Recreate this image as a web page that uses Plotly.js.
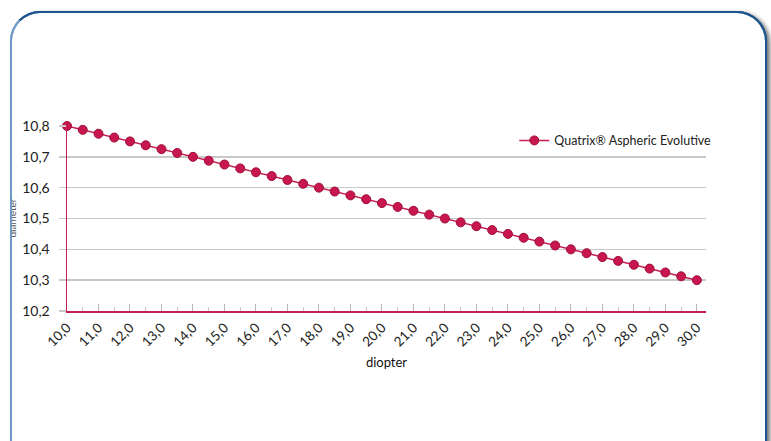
<!DOCTYPE html>
<html>
<head>
<meta charset="utf-8">
<script src="https://cdn.plot.ly/plotly-3.0.1.min.js"></script>
<style>
  html, body { margin: 0; padding: 0; background: #ffffff; width: 771px; height: 441px; overflow: hidden; }
  #frame { position: absolute; left: 10px; top: 11px; width: 753px; height: 460px;
           border: 2px solid #1d5590; border-left-color: #6e9ac4; border-radius: 30px;
           box-shadow: 3px 2px 4px rgba(0,0,0,0.55); background: #ffffff; z-index: 0; }
  #chart { position: absolute; left: 0; top: 0; width: 771px; height: 441px; z-index: 1; }
  #cover { position: absolute; left: 0; top: 0; width: 10px; height: 441px; background: #ffffff; z-index: 2; }
  #frame2 { position: absolute; left: 10px; top: 11px; width: 753px; height: 460px;
           border: 2px solid #1d5590; border-left-color: #6e9ac4; border-radius: 30px; z-index: 3; pointer-events: none; }
</style>
</head>
<body>
<div id="frame"></div>
<div id="chart"></div>
<div id="cover"></div>
<div id="frame2"></div>
<script>
// Data
const diopter = [10.0,10.5,11.0,11.5,12.0,12.5,13.0,13.5,14.0,14.5,15.0,15.5,16.0,16.5,17.0,17.5,18.0,18.5,19.0,19.5,20.0,20.5,21.0,21.5,22.0,22.5,23.0,23.5,24.0,24.5,25.0,25.5,26.0,26.5,27.0,27.5,28.0,28.5,29.0,29.5,30.0];
const diameter = [10.8000,10.7875,10.7750,10.7625,10.7500,10.7375,10.7250,10.7125,10.7000,10.6875,10.6750,10.6625,10.6500,10.6375,10.6250,10.6125,10.6000,10.5875,10.5750,10.5625,10.5500,10.5375,10.5250,10.5125,10.5000,10.4875,10.4750,10.4625,10.4500,10.4375,10.4250,10.4125,10.4000,10.3875,10.3750,10.3625,10.3500,10.3375,10.3250,10.3125,10.3000];
const seriesName = "Quatrix® Aspheric Evolutive";
const xTitle = "diopter";
const yTitle = "diameter";

const FONT = "Lato, 'Noto Sans', sans-serif";
const red = "#c41e52";

const trace = {
  x: diopter, y: diameter, type: "scatter", mode: "lines+markers", name: seriesName,
  line: { color: red, width: 1.5 },
  marker: { symbol: "circle", size: 9, color: "#c8164e", line: { color: "#9e0f3a", width: 1 } },
  cliponaxis: false
};

const layout = {
  width: 771, height: 441,
  margin: { l: 67, r: 65, t: 126, b: 130 },
  paper_bgcolor: "rgba(0,0,0,0)", plot_bgcolor: "rgba(0,0,0,0)",
  separators: ",.",
  font: { family: FONT, color: "#222222", size: 13 },
  showlegend: true,
  legend: { x: 0.70, y: 0.92, xanchor: "left", yanchor: "middle", bgcolor: "rgba(0,0,0,0)",
            font: { family: FONT, size: 12.5, color: "#222" }, itemwidth: 30 },
  xaxis: {
    range: [10, 30.29], dtick: 1, tick0: 10, tickformat: ".1f", tickangle: -45,
    showgrid: false, zeroline: false, showline: true, linecolor: red, linewidth: 1.5,
    ticks: "inside", ticklen: 7, tickcolor: "#b8b8b8", tickwidth: 1,
    minor: { dtick: 0.5, ticks: "inside", ticklen: 4, tickcolor: "#c8c8c8", showgrid: false },
    ticklabelstandoff: 2,
    tickfont: { family: FONT, size: 13.5, color: "#222" },
    title: { text: xTitle, font: { family: FONT, size: 13, color: "#111" }, standoff: 9 }
  },
  yaxis: {
    range: [10.2, 10.8], dtick: 0.1, tick0: 10.2, tickformat: ".1f",
    showgrid: true, gridcolor: "#c8c8c8", gridwidth: 1.5, zeroline: false,
    showline: true, linecolor: red, linewidth: 1.5,
    ticks: "outside", ticklen: 7, tickcolor: "#c8c8c8", tickwidth: 1.5,
    ticklabelstandoff: 6,
    tickfont: { family: FONT, size: 14, color: "#222" }
  },
  annotations: [{
    text: yTitle, xref: "paper", yref: "paper", x: -0.0876, y: 0.5, xanchor: "center", yanchor: "middle",
    textangle: -90, showarrow: false, font: { family: FONT, size: 10, color: "#555" }
  }]
};

Plotly.newPlot("chart", [trace], layout, { displayModeBar: false, staticPlot: true });
</script>
</body>
</html>
